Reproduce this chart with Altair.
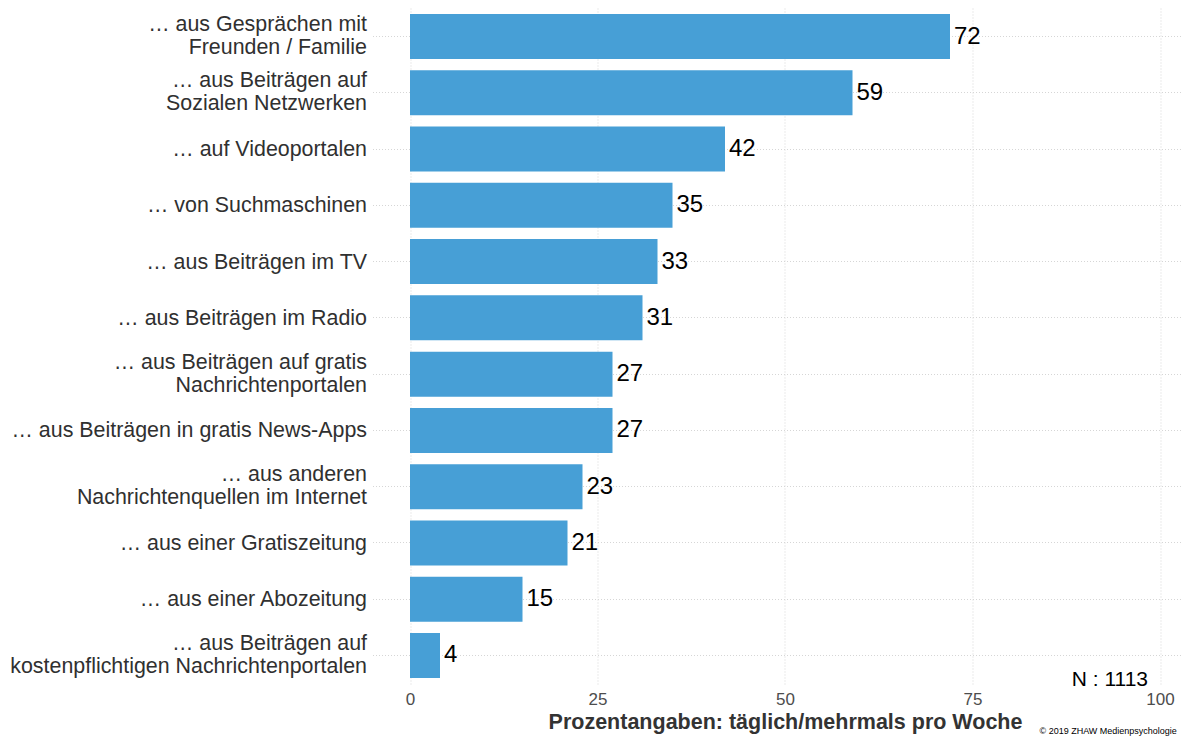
import altair as alt
import pandas as pd

categories = [
    "… aus Gesprächen mit|Freunden / Familie",
    "… aus Beiträgen auf|Sozialen Netzwerken",
    "… auf Videoportalen",
    "… von Suchmaschinen",
    "… aus Beiträgen im TV",
    "… aus Beiträgen im Radio",
    "… aus Beiträgen auf gratis|Nachrichtenportalen",
    "… aus Beiträgen in gratis News-Apps",
    "… aus anderen|Nachrichtenquellen im Internet",
    "… aus einer Gratiszeitung",
    "… aus einer Abozeitung",
    "… aus Beiträgen auf|kostenpflichtigen Nachrichtenportalen",
]
values = [72, 59, 42, 35, 33, 31, 27, 27, 23, 21, 15, 4]
x_ticks = [0, 25, 50, 75, 100]

df = pd.DataFrame({"cat": categories, "val": values})

FONT = "Liberation Sans"
BAR = "#479FD6"

xscale = alt.Scale(domain=[-5, 102.9], nice=False, zero=False)
yscale = alt.Scale(domain=categories, paddingInner=0.2, paddingOuter=0.1065)

base = alt.Chart(df)

bars = base.mark_bar(color=BAR).encode(
    x=alt.X("val:Q", scale=xscale,
            axis=alt.Axis(values=x_ticks, title="Prozentangaben: täglich/mehrmals pro Woche",
                          grid=True, gridDash=[1, 2], gridColor="#d6d6d6", gridWidth=1,
                          domain=False, ticks=False, labelPadding=7, labelFontSize=17,
                          labelColor="#4d4d4d", labelFont=FONT, titleFont=FONT,
                          titleFontSize=21.5, titleFontWeight="bold", titleColor="#333333",
                          titlePadding=4, titleX=412.5, titleAnchor="start", titleAlign="center")),
    x2=alt.datum(0),
    y=alt.Y("cat:N", scale=yscale, sort=categories,
            axis=alt.Axis(title=None, grid=True, gridDash=[1, 2], gridColor="#d6d6d6",
                          gridWidth=1, domain=False, ticks=False, bandPosition=0.5,
                          labelPadding=6, labelFontSize=21.4, labelColor="#303030",
                          labelFont=FONT, labelLimit=500, labelLineHeight=23,
                          labelOffset=alt.condition("indexof(datum.value, '|') >= 0",
                                                    alt.value(-11.5), alt.value(1)),
                          labelExpr="split(datum.label, '|')")),
)

labels = base.mark_text(align="left", baseline="middle", dx=4, fontSize=24,
                        font=FONT, color="#000000").encode(
    x=alt.X("val:Q", scale=xscale),
    y=alt.Y("cat:N", scale=yscale, sort=categories),
    text=alt.Text("val:Q"),
)

n_text = alt.Chart(pd.DataFrame({"t": ["N : 1113"]})).mark_text(
    align="right", baseline="middle", fontSize=21, font=FONT, color="#000000"
).encode(x=alt.datum(98.4), y=alt.value(672), text="t:N")

copy_text = alt.Chart(pd.DataFrame({"t": ["© 2019 ZHAW Medienpsychologie"]})).mark_text(
    align="left", baseline="bottom", fontSize=9, font=FONT, color="#000000"
).encode(x=alt.value(667), y=alt.value(728), text="t:N")

chart = alt.layer(bars, labels, n_text, copy_text).properties(
    width=809.25, height=676,
    autosize=alt.AutoSizeParams(type="none"),
    padding={"left": 364.5, "top": 0, "right": 0, "bottom": 52},
).configure(background="white", view=alt.ViewConfig(stroke=None))

chart.save("out.html", embed_options={"renderer": "svg", "actions": False})
